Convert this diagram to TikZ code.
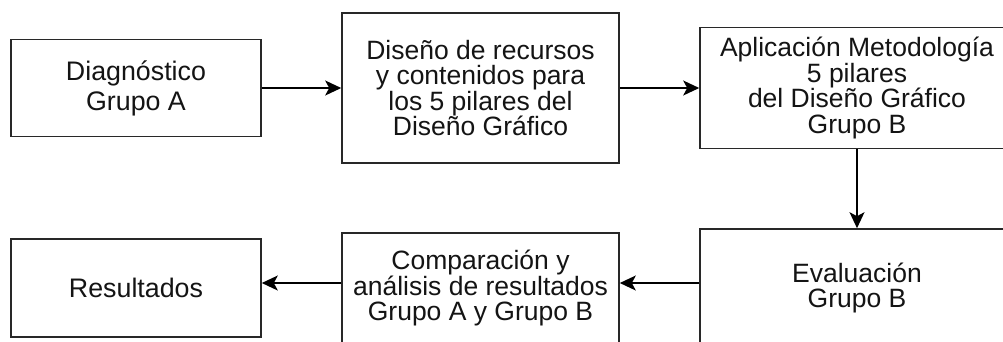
\documentclass[tikz,border=0pt]{standalone}
\usepackage{fontspec}
\setmainfont{Liberation Sans}
\usetikzlibrary{arrows.meta,positioning}

\definecolor{bordegris}{RGB}{40,40,40}
\definecolor{textonegro}{RGB}{20,20,20}

\tikzset{
  caja/.style={draw=bordegris, line width=1.6pt, align=center, text=textonegro,
    inner sep=2pt, font=\fontsize{26.5}{25.5}\selectfont},
  flecha/.style={draw=black, line width=1.6pt,
    -{Stealth[length=16pt,width=15pt,inset=4pt]}}
}

\begin{document}
\begin{tikzpicture}[x=1pt,y=-1pt]
  \clip (0,0) rectangle (1003,341);
  \fill[white] (0,0) rectangle (1003,341);

  % fila superior
  \node[caja, minimum width=250pt, minimum height=97pt,
        font=\fontsize{26.8}{30}\selectfont] (diag) at (136,88)
    {Diagnóstico\\Grupo A};
  \node[caja, minimum width=277pt, minimum height=150pt] (recursos) at (480.5,88)
    {Diseño de recursos\\y contenidos para\\los 5 pilares del\\Diseño Gráfico};
  \node[caja, minimum width=314pt, minimum height=121pt] (aplicacion) at (857,88)
    {Aplicación Metodología\\5 pilares\\del Diseño Gráfico\\Grupo B};

  % fila inferior
  \node[caja, minimum width=314pt, minimum height=118pt] (evaluacion) at (857,288)
    {Evaluación\\Grupo B};
  \node[caja, minimum width=277pt, minimum height=110pt] (comparacion) at (480.5,288)
    {Comparación y\\análisis de resultados\\Grupo A y Grupo B};
  \node[caja, minimum width=250pt, minimum height=98pt,
        font=\fontsize{26.8}{30}\selectfont] (resultados) at (136,288)
    {Resultados};

  % conexiones
  \draw[flecha] (diag) -- (recursos);
  \draw[flecha] (recursos) -- (aplicacion);
  \draw[flecha] (aplicacion) -- (evaluacion);
  \draw[flecha] ([yshift=5pt]evaluacion.west) -- ([yshift=5pt]comparacion.east);
  \draw[flecha] ([yshift=5pt]comparacion.west) -- ([yshift=5pt]resultados.east);
\end{tikzpicture}
\end{document}
